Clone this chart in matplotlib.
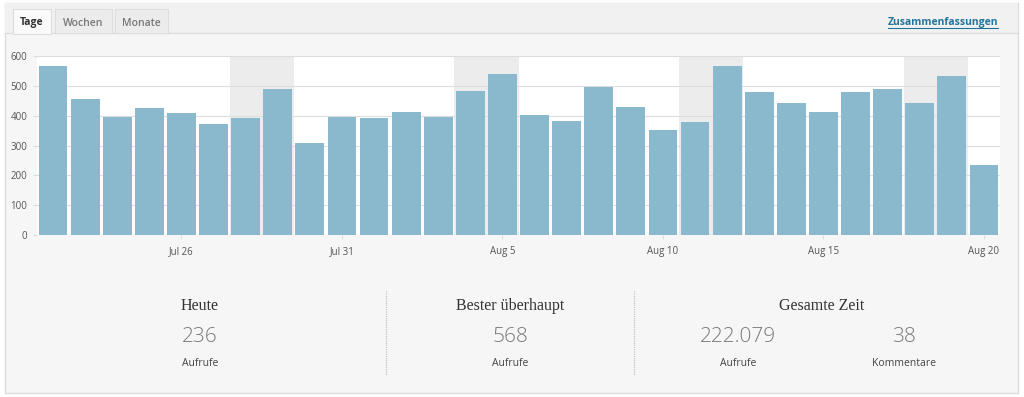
import matplotlib

matplotlib.use("Agg", force=True)
import matplotlib.pyplot as plt
from matplotlib.patches import Rectangle
import numpy as np

# daily page views, Jul 22 - Aug 20
days = ["Jul 22", "Jul 23", "Jul 24", "Jul 25", "Jul 26", "Jul 27", "Jul 28", "Jul 29",
        "Jul 30", "Jul 31", "Aug 1", "Aug 2", "Aug 3", "Aug 4", "Aug 5", "Aug 6",
        "Aug 7", "Aug 8", "Aug 9", "Aug 10", "Aug 11", "Aug 12", "Aug 13", "Aug 14",
        "Aug 15", "Aug 16", "Aug 17", "Aug 18", "Aug 19", "Aug 20"]
views = [568, 456, 394, 425, 408, 372, 392, 488, 307, 396, 393, 412, 396, 482, 541,
         402, 383, 496, 429, 351, 380, 565, 479, 442, 411, 479, 489, 441, 533, 236]
weekend_days = ["Jul 28", "Jul 29", "Aug 4", "Aug 5", "Aug 11", "Aug 12", "Aug 18", "Aug 19"]
tick_days = ["Jul 26", "Jul 31", "Aug 5", "Aug 10", "Aug 15", "Aug 20"]
y_ticks = [0, 100, 200, 300, 400, 500, 600]

tabs = ["Tage", "Wochen", "Monate"]
stat_titles = ["Heute", "Bester überhaupt", "Gesamte Zeit"]
stat_values = ["236", "568", "222.079", "38"]
stat_labels = ["Aufrufe", "Aufrufe", "Aufrufe", "Kommentare"]

BAR = "#8ab8cd"
SANS = ["Open Sans", "DejaVu Sans"]
SERIF = ["Liberation Serif", "DejaVu Serif"]

W, H = 1024, 397
fig = plt.figure(figsize=(W / 100, H / 100), dpi=100, facecolor="white")

# background / frame in pixel coordinates
bg = fig.add_axes([0, 0, 1, 1], zorder=0)
bg.set_xlim(0, W)
bg.set_ylim(H, 0)
bg.axis("off")
bg.add_patch(Rectangle((5, 3), 1013, 390, fc="#f6f6f6", ec="#dcdcdc", lw=1))
bg.add_patch(Rectangle((5, 3), 1013, 30, fc="#f1f1f1", ec="none"))
bg.plot([5, 1018], [33, 33], color="#dddddd", lw=1)

tab_x = [(13, 51), (55, 112), (115, 168)]
for i, (name, (x0, x1)) in enumerate(zip(tabs, tab_x)):
    active = i == 0
    bg.add_patch(Rectangle((x0, 9), x1 - x0, 25 if active else 24,
                           fc="#fafafa" if active else "#ececec",
                           ec="#dddddd", lw=0.8, zorder=2))
    bg.text((x0 + x1) / 2, 23, name, ha="center", va="center", fontsize=7.5,
            family=SANS, color="#333333" if active else "#777777",
            fontweight="bold" if active else "semibold", zorder=3)
bg.text(998, 22, "Zusammenfassungen", ha="right", va="center", fontsize=7.5,
        family=SANS, color="#21759b", fontweight="bold")
bg.plot([888, 998], [28, 28], color="#21759b", lw=0.8)

# separators
for xs in (386, 634):
    bg.plot([xs, xs], [291, 375], color="#bbbbbb", lw=0.8, ls=(0, (1, 1)))

# stats
for title, xc in zip(stat_titles, [200, 510, 822]):
    bg.text(xc, 306, title, ha="center", va="center", fontsize=11.5, family=SERIF, color="#333333")
for val, lab, xc in zip(stat_values, stat_labels, [200, 510, 738, 904]):
    bg.text(xc, 337, val, ha="center", va="center", fontsize=15, family=SANS,
            fontweight="light", color="#7a7a7a")
    bg.text(xc, 364, lab, ha="center", va="center", fontsize=7.5, family=SANS, color="#444444")

# bar chart
ax = fig.add_axes([37 / W, (H - 235) / H, 963 / W, 179 / H], zorder=1)
x = np.arange(len(days))
ax.set_facecolor("white")
for i, d in enumerate(days):
    if d in weekend_days:
        ax.axvspan(i - 0.5, i + 0.5, color="#ececec", lw=0, zorder=0)
ax.bar(x, views, width=0.9, color=BAR, zorder=2)
ax.set_xlim(-0.5, len(days) - 0.5)
ax.set_ylim(0, 600)
ax.set_yticks(y_ticks)
ax.set_yticklabels([str(v) for v in y_ticks], family=SANS, fontsize=7, color="#555555")
ax.yaxis.grid(True, color="#dddddd", lw=0.8, zorder=1)
ax.set_axisbelow(True)
ax.set_xticks([days.index(d) for d in tick_days])
ax.set_xticklabels(tick_days, family=SANS, fontsize=7, color="#555555")
ax.tick_params(axis="both", length=3, color="#dddddd", pad=5)
ax.tick_params(axis="y", pad=4)
for s in ax.spines.values():
    s.set_visible(False)

fig.savefig("out.png", dpi=100, facecolor="white")
